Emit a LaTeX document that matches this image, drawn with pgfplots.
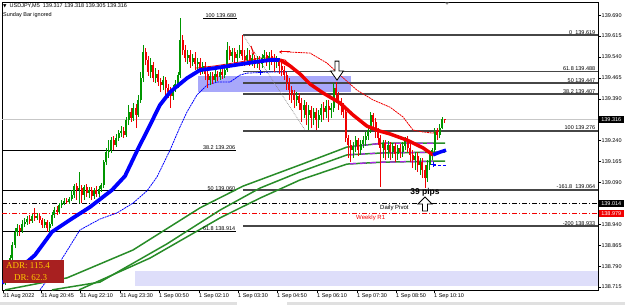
\documentclass[border=0pt]{standalone}
\usepackage{pgfplots}
\pgfplotsset{compat=1.18}
\usepackage{pgfplotstable}
\usepackage{fontspec}
\setmainfont{Liberation Sans}
\newfontfamily\adrfont{Liberation Serif}
\newfontfamily\symfont{DejaVu Sans}
\usetikzlibrary{arrows.meta}
\definecolor{cgreen}{RGB}{0,150,0}
\definecolor{cred}{RGB}{240,0,0}
\definecolor{magreen}{RGB}{40,140,40}
\definecolor{fibgray}{RGB}{70,70,70}
\definecolor{zoneblue}{RGB}{168,168,250}
\definecolor{zonelight}{RGB}{222,222,250}
\definecolor{adrred}{RGB}{168,32,32}
\definecolor{adryellow}{RGB}{255,200,0}
\definecolor{mapurple}{RGB}{170,40,230}
\newcommand\fs{\fontsize{5.5bp}{6.5bp}\selectfont}
\tikzset{fib/.style={anchor=south east, font=\fs, inner sep=0.6bp}}
\pgfplotstableread{
x o h l c
5.0 138.730 138.762 138.723 138.755
7.5 138.755 138.769 138.730 138.740
10.0 138.740 138.830 138.733 138.819
12.4 138.819 138.877 138.805 138.866
14.9 138.866 138.927 138.855 138.913
17.4 138.913 138.941 138.898 138.927
19.8 138.927 138.938 138.898 138.916
22.3 138.916 138.956 138.909 138.941
24.8 138.941 138.963 138.930 138.948
27.2 138.948 138.970 138.938 138.959
29.7 138.959 138.973 138.941 138.952
32.2 138.952 138.977 138.945 138.970
34.6 138.970 138.999 138.952 138.963
37.1 138.963 138.981 138.956 138.970
39.6 138.970 138.977 138.945 138.956
42.0 138.956 138.963 138.927 138.938
44.5 138.938 138.959 138.927 138.948
47.0 138.948 138.956 138.913 138.927
49.5 138.927 138.948 138.909 138.941
51.9 138.941 138.984 138.934 138.973
54.4 138.973 139.002 138.963 138.991
56.9 138.991 139.006 138.973 138.984
59.3 138.984 139.016 138.977 139.009
61.8 139.009 139.027 138.999 139.016
64.3 139.016 139.034 139.009 139.024
66.8 139.024 139.034 139.013 139.020
69.2 139.020 139.038 139.013 139.031
71.7 139.031 139.063 139.024 139.045
74.2 139.045 139.085 139.034 139.077
76.6 139.077 139.088 139.027 139.063
79.1 139.063 139.128 139.016 139.070
81.6 139.070 139.081 139.016 139.045
84.0 139.045 139.081 139.027 139.074
86.5 139.074 139.085 139.038 139.052
89.0 139.052 139.074 139.034 139.063
91.5 139.063 139.074 139.027 139.042
93.9 139.042 139.070 139.031 139.063
96.4 139.063 139.077 139.038 139.049
98.9 139.049 139.077 139.038 139.067
101.3 139.067 139.088 139.056 139.081
103.8 139.081 139.171 139.070 139.163
106.3 139.163 139.214 139.153 139.199
108.7 139.199 139.242 139.178 139.206
111.2 139.206 139.253 139.196 139.242
113.7 139.242 139.257 139.206 139.224
116.2 139.224 139.264 139.217 139.249
118.6 139.249 139.278 139.239 139.267
121.1 139.267 139.292 139.253 139.274
123.6 139.274 139.289 139.249 139.260
126.0 139.260 139.325 139.253 139.314
128.5 139.314 139.368 139.296 139.343
131.0 139.343 139.357 139.307 139.321
133.4 139.321 139.375 139.310 139.357
135.9 139.357 139.371 139.285 139.332
138.4 139.332 139.404 139.325 139.386
140.8 139.386 139.486 139.375 139.464
143.3 139.464 139.583 139.450 139.558
145.8 139.558 139.572 139.511 139.529
148.3 139.529 139.543 139.472 139.486
150.7 139.486 139.536 139.464 139.511
153.2 139.511 139.522 139.450 139.464
155.7 139.464 139.500 139.447 139.479
158.1 139.479 139.493 139.436 139.450
160.6 139.450 139.464 139.414 139.439
163.1 139.439 139.472 139.421 139.457
165.5 139.457 139.468 139.404 139.429
168.0 139.429 139.443 139.393 139.414
170.5 139.414 139.432 139.357 139.400
173.0 139.400 139.439 139.386 139.429
175.4 139.429 139.457 139.414 139.443
177.9 139.443 139.486 139.429 139.475
180.4 139.475 139.680 139.464 139.601
182.8 139.601 139.619 139.547 139.565
185.3 139.565 139.583 139.522 139.536
187.8 139.536 139.565 139.515 139.547
190.2 139.547 139.565 139.500 139.522
192.7 139.522 139.551 139.508 139.536
195.2 139.536 139.558 139.493 139.515
197.6 139.515 139.536 139.493 139.522
200.1 139.522 139.536 139.475 139.493
202.6 139.493 139.522 139.479 139.508
205.1 139.508 139.522 139.457 139.479
207.5 139.479 139.493 139.429 139.457
210.0 139.457 139.486 139.439 139.472
212.5 139.472 139.486 139.443 139.457
214.9 139.457 139.493 139.450 139.479
217.4 139.479 139.490 139.454 139.468
219.9 139.468 139.500 139.457 139.486
222.3 139.486 139.500 139.461 139.475
224.8 139.475 139.508 139.464 139.493
227.3 139.493 139.593 139.486 139.565
229.7 139.565 139.579 139.529 139.543
232.2 139.543 139.572 139.522 139.558
234.7 139.558 139.572 139.515 139.536
237.2 139.536 139.565 139.522 139.551
239.6 139.551 139.583 139.536 139.565
242.1 139.565 139.619 139.529 139.543
244.6 139.543 139.565 139.508 139.529
247.0 139.529 139.572 139.515 139.547
249.5 139.547 139.565 139.508 139.522
252.0 139.522 139.551 139.508 139.536
254.5 139.536 139.547 139.500 139.518
256.9 139.518 139.543 139.500 139.529
259.4 139.529 139.543 139.493 139.515
261.9 139.515 139.551 139.500 139.536
264.3 139.536 139.565 139.522 139.547
266.8 139.547 139.558 139.508 139.529
269.3 139.529 139.558 139.493 139.543
271.8 139.543 139.565 139.511 139.536
274.2 139.536 139.551 139.486 139.522
276.7 139.522 139.543 139.500 139.529
279.2 139.529 139.536 139.479 139.508
281.6 139.508 139.522 139.472 139.493
284.1 139.493 139.508 139.457 139.475
286.6 139.475 139.486 139.421 139.450
289.0 139.450 139.464 139.386 139.421
291.5 139.421 139.436 139.375 139.404
294.0 139.404 139.421 139.357 139.386
296.5 139.386 139.414 139.364 139.400
298.9 139.400 139.411 139.350 139.375
301.4 139.375 139.393 139.307 139.350
303.9 139.350 139.386 139.321 139.368
306.3 139.368 139.378 139.296 139.332
308.8 139.332 139.368 139.278 139.350
311.3 139.350 139.364 139.285 139.321
313.7 139.321 139.357 139.296 139.343
316.2 139.343 139.357 139.278 139.314
318.7 139.314 139.350 139.285 139.332
321.2 139.332 139.371 139.307 139.357
323.6 139.357 139.378 139.314 139.343
326.1 139.343 139.386 139.321 139.364
328.6 139.364 139.386 139.307 139.350
331.0 139.350 139.375 139.321 139.357
333.5 139.357 139.447 139.343 139.429
336.0 139.429 139.450 139.386 139.404
338.4 139.404 139.414 139.350 139.378
340.9 139.378 139.393 139.332 139.364
343.4 139.364 139.375 139.321 139.343
345.8 139.343 139.357 139.235 139.249
348.3 139.249 139.260 139.178 139.224
350.8 139.224 139.242 139.163 139.206
353.3 139.206 139.235 139.178 139.221
355.7 139.221 139.257 139.199 139.242
358.2 139.242 139.249 139.185 139.206
360.7 139.206 139.242 139.189 139.228
363.1 139.228 139.257 139.214 139.242
365.6 139.242 139.271 139.221 139.257
368.1 139.257 139.292 139.242 139.278
370.6 139.278 139.343 139.267 139.332
373.0 139.332 139.339 139.285 139.307
375.5 139.307 139.321 139.249 139.271
378.0 139.271 139.285 139.224 139.249
380.4 139.249 139.260 139.074 139.214
382.9 139.214 139.242 139.178 139.231
385.4 139.231 139.242 139.171 139.206
387.9 139.206 139.239 139.178 139.224
390.3 139.224 139.235 139.171 139.199
392.8 139.199 139.231 139.178 139.221
395.3 139.221 139.231 139.163 139.192
397.7 139.192 139.224 139.171 139.214
400.2 139.214 139.228 139.178 139.199
402.7 139.199 139.235 139.181 139.221
405.1 139.221 139.253 139.206 139.242
407.6 139.242 139.257 139.199 139.214
410.1 139.214 139.228 139.163 139.189
412.5 139.189 139.206 139.142 139.171
415.0 139.171 139.199 139.135 139.185
417.5 139.185 139.199 139.128 139.153
420.0 139.153 139.178 139.117 139.163
422.4 139.163 139.178 139.106 139.135
424.9 139.135 139.153 139.070 139.106
427.4 139.106 139.171 139.092 139.153
429.8 139.153 139.199 139.135 139.189
432.3 139.189 139.214 139.171 139.206
434.8 139.206 139.285 139.192 139.271
437.2 139.271 139.285 139.242 139.260
439.7 139.260 139.300 139.249 139.285
442.2 139.285 139.325 139.280 139.317
444.7 139.317 139.318 139.305 139.316
}\candles
\begin{document}
\begin{tikzpicture}[x=1bp,y=1bp]
\useasboundingbox (0,0) rectangle (625,305);
\fill[black!12] (0,0) rectangle (625,3.5);
\fill[white] (237,0) rectangle (287,3.5);
\begin{axis}[
  at={(2bp,15bp)}, anchor=south west,
  scale only axis, width=596bp, height=288bp,
  xmin=2, xmax=598, ymin=138.7046, ymax=139.737,
  clip mode=individual,
  axis line style={black, line width=0.7bp},
  tick align=outside, major tick length=3bp,
  tick style={black, line width=0.5bp},
  xtick pos=left, ytick pos=right,
  xtick={3,41,80,120,159,199,238,277,317,357,396,434},
  xticklabels={31 Aug 2022,31 Aug 20:45,31 Aug 22:10,31 Aug 23:30,1 Sep 00:50,1 Sep 02:10,1 Sep 03:30,1 Sep 04:50,1 Sep 06:10,1 Sep 07:30,1 Sep 08:50,1 Sep 10:10},
  xticklabel style={anchor=north west, font=\fs, inner sep=0.5bp, xshift=-0.5bp},
  ytick={138.715,138.790,138.865,138.940,139.090,139.165,139.240,139.390,139.465,139.540,139.615,139.690},
  yticklabels={138.715,138.790,138.865,138.940,139.090,139.165,139.240,139.390,139.465,139.540,139.615,139.690},
  yticklabel style={anchor=west, font=\fs, inner sep=0.5bp},
]
% background zones
\fill[zonelight] (axis cs:135,138.773) rectangle (axis cs:598,138.719);
\fill[zoneblue] (axis cs:198,139.472) rectangle (axis cs:351,139.414);
% current price line
\addplot[black!22, line width=0.7bp] coordinates {(2,139.316) (598,139.316)};
% daily pivot and weekly R1
\addplot[black, line width=0.7bp, dash pattern=on 5bp off 2bp on 1bp off 2bp] coordinates {(2,139.014) (598,139.014)};
\addplot[cred, line width=0.7bp, dash pattern=on 5bp off 2bp on 1bp off 2bp] coordinates {(2,138.979) (598,138.979)};
% left fibonacci
\addplot[black, line width=1.2bp] coordinates {(2,139.206) (236,139.206)};
\addplot[black, line width=1.2bp] coordinates {(2,139.060) (236,139.060)};
\addplot[black, line width=1.2bp] coordinates {(2,138.914) (236,138.914)};
\addplot[black, line width=0.7bp] coordinates {(203,139.679) (237,139.679)};
% right fibonacci
\addplot[fibgray, line width=1.8bp] coordinates {(243,139.619) (598,139.619)};
\addplot[fibgray, line width=1.8bp] coordinates {(243,139.488) (598,139.488)};
\addplot[fibgray, line width=1.8bp] coordinates {(243,139.447) (598,139.447)};
\addplot[fibgray, line width=1.8bp] coordinates {(243,139.407) (598,139.407)};
\addplot[fibgray, line width=1.8bp] coordinates {(243,139.276) (598,139.276)};
\addplot[fibgray, line width=1.8bp] coordinates {(243,139.064) (598,139.064)};
\addplot[fibgray, line width=1.8bp] coordinates {(243,138.933) (598,138.933)};
\addplot[black!45, densely dotted, line width=0.7bp] coordinates {(243,139.619) (305,139.278)};
% green moving averages
\addplot[magreen, line width=1.5bp] coordinates {(5,138.705) (67,138.748) (133,138.848) (200,138.999) (243,139.077) (300,139.153) (347,139.217) (383,139.231) (445,139.231)};
\addplot[magreen, line width=1.5bp] coordinates {(52,138.705) (100,138.733) (167,138.870) (220,138.991) (260,139.070) (300,139.128) (347,139.189) (383,139.196) (445,139.199)};
\addplot[magreen, line width=1.5bp] coordinates {(79,138.705) (150,138.819) (220,138.963) (260,139.034) (300,139.099) (347,139.156) (383,139.163) (445,139.167)};
\addplot[mapurple, line width=1.3bp, dash pattern=on 7bp off 4bp] coordinates {(350,139.218) (383,139.231) (433,139.231)};
\addplot[mapurple, line width=1.3bp, dash pattern=on 5bp off 5bp] coordinates {(350,139.190) (383,139.196) (433,139.198)};
\addplot[mapurple, line width=1.3bp, dash pattern=on 6bp off 4bp] coordinates {(350,139.157) (383,139.163) (433,139.166)};
% thin moving averages
\addplot[blue, line width=0.8bp, dash pattern=on 2bp off 0.7bp] coordinates {(40,138.705) (60,138.805) (80,138.920) (100,138.959) (117,138.981) (133,139.016) (147,139.060) (157,139.110) (170,139.206) (180,139.289) (187,139.343) (197,139.404) (207,139.439) (217,139.450) (230,139.450) (240,139.475) (247,139.482) (270,139.486) (287,139.486)};
\addplot[cred, line width=0.8bp] coordinates {(195,139.500) (215,139.508) (240,139.522) (260,139.536) (275,139.536) (285,139.529) (300,139.479)};
\addplot[cred, line width=0.8bp, dash pattern=on 2bp off 0.7bp] coordinates {(287,139.558) (310,139.554) (327,139.518) (340,139.475) (357,139.421) (373,139.386) (390,139.360) (403,139.325) (413,139.278) (423,139.271) (433,139.267) (440,139.278)};
% candles
\addplot[cgreen, line width=0.7bp, quiver={u=0,v=\thisrow{h}-\thisrow{l}}, restrict expr to domain={\thisrow{c}-\thisrow{o}}{0:1}] table[x=x,y=l] {\candles};
\addplot[cgreen, line width=2bp, quiver={u=0,v=\thisrow{c}-\thisrow{o}}, restrict expr to domain={\thisrow{c}-\thisrow{o}}{0:1}] table[x=x,y=o] {\candles};
\addplot[cred, line width=0.7bp, quiver={u=0,v=\thisrow{h}-\thisrow{l}}, restrict expr to domain={\thisrow{c}-\thisrow{o}}{-1:0}] table[x=x,y=l] {\candles};
\addplot[cred, line width=2bp, quiver={u=0,v=\thisrow{c}-\thisrow{o}}, restrict expr to domain={\thisrow{c}-\thisrow{o}}{-1:0}] table[x=x,y=o] {\candles};
% thick moving average
\addplot[blue, line width=3.8bp, line join=round] coordinates {(2,138.730) (20,138.783) (35,138.830) (52,138.913) (70,138.956) (90,139.002) (112,139.063) (125,139.113) (137,139.203) (150,139.296) (160,139.368) (170,139.414) (187,139.464) (200,139.493) (215,139.500) (235,139.511) (255,139.522) (270,139.529) (280,139.529)};
\addplot[cred, line width=3.5bp, line join=round] coordinates {(280,139.529) (290,139.508) (300,139.479) (310,139.443) (323,139.411) (340,139.375) (353,139.332) (367,139.292) (380,139.274) (390,139.264) (407,139.242) (423,139.214) (433,139.189)};
\addplot[blue, line width=3.5bp, line join=round] coordinates {(433,139.189) (440,139.199) (446,139.206)};
\addplot[blue, only marks, mark=+, mark size=2.5bp, line width=1bp] coordinates {(260,139.486) (433,139.153)};
\addplot[blue, densely dashed, line width=0.8bp] coordinates {(433,139.153) (447,139.153)};
% arrows
\draw[black, fill=white, line width=0.8bp] (axis cs:335,139.525) -- (axis cs:339,139.525) -- (axis cs:339,139.490) -- (axis cs:343.5,139.490) -- (axis cs:337,139.457) -- (axis cs:330.5,139.490) -- (axis cs:335,139.490) -- cycle;
\draw[black, fill=white, line width=0.8bp] (axis cs:422.5,138.988) -- (axis cs:427.5,138.988) -- (axis cs:427.5,139.013) -- (axis cs:432,139.013) -- (axis cs:425,139.038) -- (axis cs:418,139.013) -- (axis cs:422.5,139.013) -- cycle;
\draw[cred, line width=1bp, -{Stealth[length=3bp,width=3.5bp]}] (axis cs:251,139.579) -- (axis cs:254,139.547);
\draw[cred, line width=1bp, -{Stealth[length=3bp,width=3.5bp]}] (axis cs:290,139.558) -- (axis cs:279,139.558);
\fill[black!45] (axis cs:445,139.735) -- (axis cs:449,139.735) -- (axis cs:447,139.727) -- cycle;
% labels
\node[anchor=west, font=\fs, inner sep=0] at (axis cs:3,139.722) {{\symfont\fontsize{4.5bp}{5bp}\selectfont ▼}\ \ USDJPY,M5\ \ 139.317 139.318 139.305 139.316};
\node[anchor=west, font=\fs, inner sep=0] at (axis cs:3,139.690) {Sunday Bar ignored};
\node[fib] at (axis cs:237,139.679) {100 139.680};
\node[fib] at (axis cs:236,139.206) {38.2 139.206};
\node[fib] at (axis cs:236,139.060) {50 139.060};
\node[fib] at (axis cs:236,138.914) {61.8 138.914};
\node[fib] at (axis cs:596,139.619) {0\ \ 139.619};
\node[fib] at (axis cs:596,139.488) {61.8 139.488};
\node[fib] at (axis cs:596,139.447) {50 139.447};
\node[fib] at (axis cs:596,139.407) {38.2 139.407};
\node[fib] at (axis cs:596,139.276) {100 139.276};
\node[fib] at (axis cs:596,139.064) {-161.8\ \ 139.064};
\node[fib] at (axis cs:596,138.933) {-200 138.933};
\node[anchor=west, font=\fontsize{6bp}{7bp}\selectfont, inner sep=0] at (axis cs:380,139.000) {Daily Pivot};
\node[anchor=west, font=\fontsize{6bp}{7bp}\selectfont, text=cred, inner sep=0] at (axis cs:356,138.963) {Weekly R1};
\node[font=\bfseries\fontsize{8.5bp}{9bp}\selectfont, inner sep=0] at (axis cs:425,139.056) {39 pips};
% ADR box
\fill[adrred] (axis cs:3,138.812) rectangle (axis cs:64,138.730);
\node[anchor=west, text=adryellow, font=\adrfont\fontsize{9bp}{10bp}\selectfont, inner sep=0] at (axis cs:6,138.791) {ADR: 115.4};
\node[anchor=west, text=adryellow, font=\adrfont\fontsize{9bp}{10bp}\selectfont, inner sep=0] at (axis cs:14,138.750) {DR: 62.3};
% price boxes on the scale
\node[fill=black, text=white, anchor=west, font=\fs, inner sep=0.8bp, minimum width=25bp, minimum height=7bp] at (axis cs:598.6,139.316) {139.316};
\node[fill=black, text=white, anchor=west, font=\fs, inner sep=0.8bp, minimum width=25bp, minimum height=7bp] at (axis cs:598.6,139.014) {139.014};
\node[fill=cred, text=white, anchor=west, font=\fs, inner sep=0.8bp, minimum width=25bp, minimum height=7bp] at (axis cs:598.6,138.979) {138.979};
\end{axis}
\end{tikzpicture}
\end{document}
